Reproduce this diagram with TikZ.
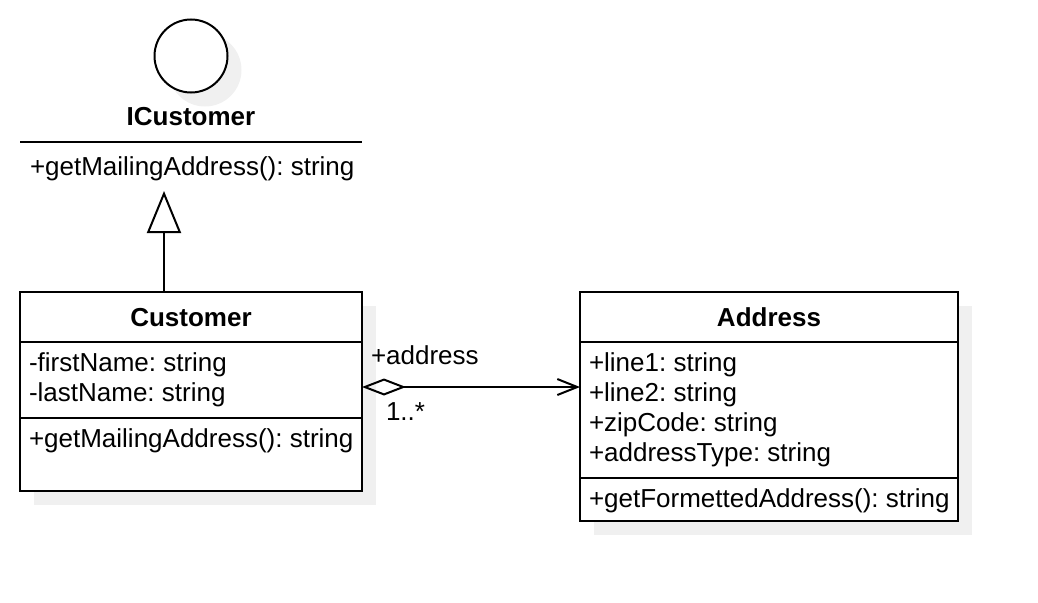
\documentclass[tikz,border=0pt]{standalone}
\usepackage{fontspec}
\setmainfont{Liberation Sans}
\usetikzlibrary{arrows.meta,shadows}
\begin{document}
\frenchspacing
\begin{tikzpicture}[x=1pt,y=-1pt,
  every node/.style={font=\fontsize{26pt}{30pt}\selectfont},
  shadowed/.style={drop shadow={shadow xshift=14pt,shadow yshift=-14pt,fill=black!6,opacity=1}},
  classbox/.style={draw,line width=2pt,fill=white,shadowed,inner sep=0pt,outer sep=0pt,anchor=north west},
  txt/.style={inner sep=0pt,outer sep=0pt,anchor=base west},
  ttl/.style={inner sep=0pt,outer sep=0pt,anchor=base,font=\fontsize{26pt}{30pt}\selectfont\bfseries},
  divider/.style={line width=2pt},
  conn/.style={line width=2pt}]
\useasboundingbox (0,0) rectangle (1038,602);

% interface ICustomer
\node[circle,draw,line width=2pt,fill=white,shadowed,minimum size=73pt,inner sep=0pt,outer sep=0pt] (icon) at (191,56) {};
\node[ttl] (ititle) at (191,125) {ICustomer};
\coordinate (il) at (20,142);
\coordinate (ir) at (362,142);
\draw[divider] (il) -- (ir);
\node[txt] (imeth) at (30,175) {+getMailingAddress(): string};

% helper rows
\coordinate (y342) at (0,342);
\coordinate (y418) at (0,418);
\coordinate (y478) at (0,478);
\coordinate (ay) at (0,387);

% Customer
\node[classbox,minimum width=342pt,minimum height=199pt] (cust) at (20,292) {};
\node[ttl] (ctitle) at (191,326) {Customer};
\draw[divider] (cust.west |- y342) -- (cust.east |- y342);
\node[txt] (ca1) at (29,371) {-firstName: string};
\node[txt] (ca2) at (29,401) {-lastName: string};
\draw[divider] (cust.west |- y418) -- (cust.east |- y418);
\node[txt] (cm1) at (29,447) {+getMailingAddress(): string};

% Address
\node[classbox,minimum width=378pt,minimum height=229pt] (addr) at (580,292) {};
\node[ttl] (atitle) at (769,326) {Address};
\draw[divider] (addr.west |- y342) -- (addr.east |- y342);
\node[txt] (aa1) at (589,371) {+line1: string};
\node[txt] (aa2) at (589,401) {+line2: string};
\node[txt] (aa3) at (589,431) {+zipCode: string};
\node[txt] (aa4) at (589,461) {+addressType: string};
\draw[divider] (addr.west |- y478) -- (addr.east |- y478);
\node[txt] (am1) at (589,507) {+getFormettedAddress(): string};

% generalization
\coordinate (gtip) at (164,191);
\draw[conn,-{Triangle[open,length=42pt,width=34pt]}] (gtip |- cust.north) -- (gtip);

% aggregation / association
\draw[conn,{Diamond[open,length=44pt,width=17pt]}-{Straight Barb[length=20pt,width=16pt]}] (cust.east |- ay) -- (addr.west |- ay);
\node[txt] (role) at (371,364) {+address};
\node[txt] (mult) at (386,420) {1..*};
\end{tikzpicture}
\end{document}
